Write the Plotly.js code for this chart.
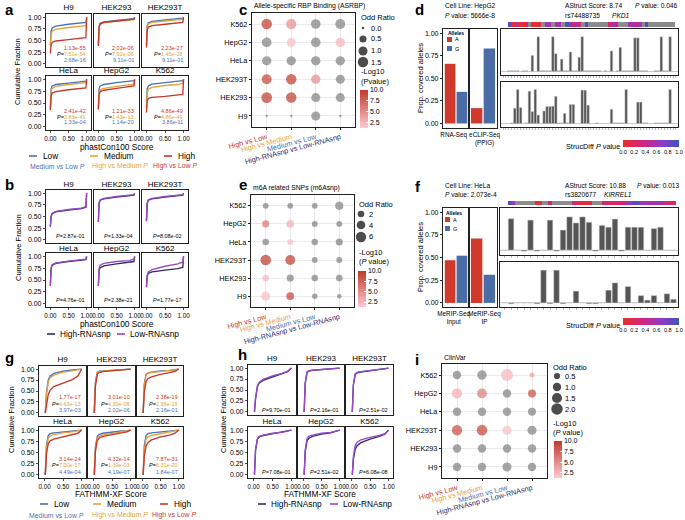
<!DOCTYPE html>
<html><head><meta charset="utf-8">
<script src="https://cdn.plot.ly/plotly-3.0.1.min.js"></script>
<style>html,body{margin:0;padding:0;background:#fff}</style>
</head><body><div id="chart" style="width:685px;height:520px"></div>
<script>
// ---------------- DATA ----------------
const cellLines=['H9','HEK293','HEK293T','HeLa','HepG2','K562'];
const phastX=[0,0.02,0.05,0.15,0.5,0.85,0.98,1.0];
const fathX=[0.02,0.05,0.1,0.15,0.25,0.5,0.75,0.9,1.0];
// panel a (phastCon100, Low / Medium / High)
const aLow=[[0.40,0.70,0.77,0.81,0.85,0.87,0.89,1.0],[0.40,0.80,0.87,0.90,0.93,0.95,0.97,1.0],[0.40,0.82,0.88,0.91,0.94,0.96,0.98,1.0],[0.40,0.80,0.86,0.89,0.92,0.94,0.96,1.0],[0.40,0.80,0.86,0.89,0.93,0.95,0.97,1.0],[0.40,0.80,0.86,0.90,0.93,0.95,0.97,1.0]];
const aMed=[[0.38,0.62,0.70,0.74,0.78,0.80,0.82,1.0],[0.40,0.78,0.85,0.88,0.91,0.93,0.95,1.0],[0.40,0.80,0.86,0.89,0.92,0.94,0.96,1.0],[0.38,0.75,0.81,0.85,0.89,0.91,0.93,1.0],[0.38,0.72,0.78,0.81,0.85,0.88,0.90,1.0],[0.38,0.72,0.79,0.83,0.87,0.89,0.92,1.0]];
const aHigh=[[0.22,0.40,0.46,0.49,0.52,0.54,0.56,1.0],[0.38,0.78,0.86,0.89,0.92,0.94,0.96,1.0],[0.35,0.72,0.79,0.82,0.85,0.87,0.89,1.0],[0.35,0.65,0.71,0.74,0.78,0.80,0.82,1.0],[0.36,0.68,0.74,0.77,0.81,0.84,0.86,1.0],[0.30,0.55,0.60,0.62,0.64,0.66,0.68,1.0]];
const aHL=['1.13e-55','2.02e-06','2.23e-27','2.41e-42','1.21e-33','4.86e-49'];
const aHM=['7.51e-54','7.92e-08','1.45e-28','3.83e-41','1.43e-13','4.86e-49'];
const aML=['2.68e-16','9.11e-01','9.11e-01','1.33e-04','1.14e-20','3.86e-11'];
// panel b (phastCon100, High-RNAsnp / Low-RNAsnp)
const bHigh=[[0.28,0.50,0.56,0.60,0.64,0.67,0.70,1.0],[0.38,0.78,0.85,0.88,0.92,0.94,0.96,1.0],[0.40,0.78,0.85,0.88,0.92,0.94,0.96,1.0],[0.38,0.74,0.81,0.85,0.89,0.91,0.93,1.0],[0.38,0.70,0.76,0.80,0.84,0.87,0.89,1.0],[0.35,0.58,0.64,0.67,0.71,0.74,0.77,1.0]];
const bLow=[[0.28,0.50,0.57,0.61,0.65,0.68,0.71,1.0],[0.38,0.79,0.86,0.89,0.93,0.95,0.97,1.0],[0.40,0.79,0.86,0.89,0.93,0.95,0.97,1.0],[0.38,0.75,0.82,0.86,0.90,0.92,0.94,1.0],[0.38,0.74,0.81,0.85,0.89,0.91,0.94,1.0],[0.35,0.60,0.67,0.72,0.79,0.84,0.88,1.0]];
const bP=['2.87e-01','1.33e-04','8.08e-02','4.76e-01','2.38e-21','1.77e-17'];
// panel g (FATHMM-XF, Low / Medium / High)
const gLow=[[0,0.45,0.75,0.84,0.90,0.95,0.98,0.99,1.0],[0,0.70,0.93,0.95,0.96,0.97,0.98,0.99,1.0],[0,0.65,0.88,0.91,0.93,0.96,0.97,0.99,1.0],[0,0.65,0.88,0.92,0.94,0.96,0.98,0.99,1.0],[0,0.62,0.86,0.90,0.93,0.96,0.98,0.99,1.0],[0,0.65,0.88,0.92,0.94,0.96,0.97,0.98,1.0]];
const gMed=[[0,0.40,0.70,0.80,0.86,0.93,0.96,0.98,1.0],[0,0.68,0.92,0.94,0.95,0.97,0.98,0.99,1.0],[0,0.62,0.86,0.90,0.92,0.95,0.97,0.98,1.0],[0,0.60,0.82,0.87,0.90,0.94,0.96,0.98,1.0],[0,0.58,0.82,0.86,0.89,0.93,0.96,0.98,1.0],[0,0.55,0.80,0.85,0.88,0.92,0.95,0.97,1.0]];
const gHigh=[[0,0.20,0.42,0.52,0.60,0.68,0.76,0.84,1.0],[0,0.60,0.88,0.92,0.94,0.96,0.97,0.99,1.0],[0,0.45,0.72,0.78,0.82,0.88,0.92,0.95,1.0],[0,0.45,0.70,0.76,0.80,0.85,0.89,0.93,1.0],[0,0.52,0.76,0.82,0.86,0.90,0.93,0.96,1.0],[0,0.40,0.65,0.72,0.78,0.85,0.89,0.93,1.0]];
const gHL=['1.77e-17','3.01e-10','2.38e-19','3.14e-24','4.32e-14','7.87e-31'];
const gHM=['4.63e-13','4.30e-08','2.38e-19','7.00e-17','1.39e-03','6.31e-20'];
const gML=['3.97e-03','2.02e-06','2.16e-01','4.49e-04','4.19e-07','1.84e-07'];
// panel h (FATHMM-XF, High-RNAsnp / Low-RNAsnp)
const hHigh=[[0,0.30,0.58,0.66,0.72,0.80,0.87,0.92,1.0],[0,0.65,0.90,0.93,0.95,0.97,0.98,0.99,1.0],[0,0.62,0.86,0.89,0.91,0.94,0.96,0.98,1.0],[0,0.55,0.80,0.85,0.88,0.92,0.95,0.97,1.0],[0,0.52,0.76,0.82,0.86,0.91,0.94,0.97,1.0],[0,0.35,0.58,0.65,0.72,0.80,0.86,0.91,1.0]];
const hLow=[[0,0.32,0.60,0.68,0.74,0.82,0.88,0.93,1.0],[0,0.67,0.91,0.94,0.95,0.97,0.98,0.99,1.0],[0,0.63,0.87,0.90,0.92,0.95,0.97,0.98,1.0],[0,0.57,0.81,0.86,0.89,0.93,0.95,0.97,1.0],[0,0.56,0.81,0.86,0.89,0.93,0.95,0.97,1.0],[0,0.42,0.66,0.73,0.78,0.84,0.88,0.92,1.0]];
const hP=['9.70e-01','2.16e-01','2.51e-02','7.08e-01','2.51e-02','6.08e-08'];
// dot plots: rows in cellLines order (H9 bottom), columns in comparisons order
const comparisons=['High vs Low','High vs Medium','Medium vs Low','High-RNAsnp vs Low-RNAsnp'];
const cOR=[[0.0,0.0,1.0,0.0],[1.6,1.5,1.0,1.0],[1.3,1.5,1.1,1.0],[1.1,1.1,1.1,1.1],[1.2,1.0,1.2,1.1],[1.5,1.4,1.2,1.3]];
const cLP=[[null,null,null,null],[10,10,null,null],[9.5,10,5,null],[null,null,null,null],[null,2,null,2.5],[10,5,null,null]];
const eOR=[[4.5,3,1.2,0.7],[2,2.5,2,2],[6.5,5.5,1.5,1.5],[2,1.5,2,2.5],[2.5,3,1.5,1.5],[1.5,1.5,1.5,3.5]];
const eLP=[[2,9.5,null,null],[2.5,null,null,null],[10,10,null,null],[null,2,null,null],[6.5,3,null,null],[null,null,null,null]];
const iOR=[[1.0,1.0,1.2,1.0],[1.0,1.0,1.0,1.0],[1.6,1.7,1.2,1.2],[1.0,1.0,1.0,0.9],[1.6,1.4,1.0,0.9],[1.0,1.3,2.2,0.3]];
const iLP=[[null,null,null,null],[null,null,null,null],[9,9.5,2,null],[null,null,null,null],[3,6,null,9],[null,null,2.5,4]];
const cSizeLegend=[0,0.5,1.0,1.5];
const eSizeLegend=[2,4,6];
const iSizeLegend=[0.5,1.0,1.5,2.0];
const lpTicks=[2.5,5,7.5,10];
// panels d / f
const dGroups=['RNA-Seq','eCLIP-Seq<br>(PPIG)'];
const dA=[0.66,0.17], dG=[0.35,0.83];
const fGroups=['MeRIP-Seq<br>Input','MeRIP-Seq<br>IP'];
const fA=[0.47,0.71], fG=[0.52,0.31];
const dTop=[0,0,0.02,0.02,0.02,0.02,0,0.02,0.02,0,0.45,0,0.98,0.02,0.02,0.02,0.02,0.98,0.5,0.02,0.35,0.02,0.02,0.55,0.02,0.02,0.4,0.98,0.02,0.02,0.02,0.02,0.02,0.02,0,0.02,0,0.58,0,0.02,0.68,0.02,0.02,0.02,0.02,0.95,0.95,0.02,0.02,0.02,0,0,0.02,0.02,0.98,0.02,0.02,0.98,0,0];
const dBottom=[0,0,0,0.02,0.45,1.0,0.47,0,0.02,0.95,0.35,1.0,0.25,0,0.37,0.5,0.5,0.51,0.8,0.02,0.02,0.3,0.02,0.56,0.56,0,0,0.98,0.98,0.54,0,0,0.02,0,0,0,0,0.42,0.02,0.02,0.02,0.02,1.0,0,0,0,0.63,0.63,0.02,0.02,0,0,0.02,0.02,0.02,0.02,0.02,1.0,0,0];
const fTop=[0,0.88,0,-0.03,0.84,-0.03,0,0.84,-0.03,0.56,0.93,0.76,0.93,0.78,-0.03,0.69,0.64,0.87,-0.03,0.64,0.64,0.64,0,0.6,0.64,0,0];
const fBottom=[0,-0.01,0,0,0,-0.01,0.36,-0.01,0.36,-0.01,0,0.13,0,-0.01,-0.01,0,0.14,0.22,0,0.18,0,0.08,0.03,0.08,0,0.1,0.04];
const dStrip=[0.9,0.05,0.65,0.1,0.05,0.35,null,0.02,0.02,0.05,null,0.6,0.6,null,0.55,0.6,null,0.9,0.85,0.3,0.6,0.3,null,0.9,null,null,null,null,null,null,0.3,0.6,0.3,null,null,null,0.6,0.55,0.3,0.6,null,0.9,null,null,null,null,null,null,null,null];
const fStrip=[0.9,0.65,null,null,null,null,null,null,0.05,0.05,null,null,0.3,null,null,null,null,null,null,0.3,0.2,0.1,0.05,0.1,0.15,null,null,null,0.3,0.25,0.3,0.2,0.25,0.3,0.35,0.6,0.65,0.85,0.9,0.65,0.6,0.65,0.6,0.55,0.6,0.55,0.6,0.3,0.25,0.2];
const strucTicks=[0,0.2,0.4,0.6,0.8,1.0];

// ---------------- STYLE / HELPERS ----------------
const W=685,H=520;
const FONT='Liberation Sans, Arial, Helvetica, sans-serif';
const C_LOW='#4A72B0',C_MED='#E5A33B',C_HIGH='#C8372D',C_HR='#2E2C6E',C_LR='#9B48C6';
const C_A='#CF3A2C',C_G='#4A6DA8',GREY='#7f7f7f';
const PINKRED=[[0,'#FFC9D3'],[1,'#C0392B']];
const STRUC=[[0,'#E8302A'],[0.35,'#D3237F'],[0.7,'#8E3BC8'],[1,'#3B56B6']];
const F=(s,c)=>({family:FONT,size:s,color:c||'#000000'});
const traces=[],annotations=[],shapes=[];
const layout={width:W,height:H,margin:{l:0,r:0,t:0,b:0},paper_bgcolor:'#fff',plot_bgcolor:'rgba(0,0,0,0)',showlegend:false,hovermode:false,font:F(8),annotations,shapes,bargap:0.1};
let nAx=0;
function addAxes(x0,x1,y0,y1,xo,yo){
  nAx++;const s=nAx===1?'':String(nAx);
  layout['xaxis'+s]=Object.assign({domain:[x0/W,x1/W],anchor:'y'+s,showgrid:false,zeroline:false,fixedrange:true},xo||{});
  layout['yaxis'+s]=Object.assign({domain:[1-y1/H,1-y0/H],anchor:'x'+s,showgrid:false,zeroline:false,fixedrange:true},yo||{});
  return {x:'x'+s,y:'y'+s};
}
function txt(x,y,text,opt){annotations.push(Object.assign({xref:'paper',yref:'paper',x:x/W,y:1-y/H,text:text,showarrow:false,xanchor:'left',yanchor:'middle',font:F(8)},opt||{}));}
function dtxt(ax,x,y,text,size){annotations.push({xref:ax.x+' domain',yref:ax.y+' domain',x:x,y:y,text:text,showarrow:false,xanchor:'right',yanchor:'middle',font:F(size||5.5)});}
function hline(x0,x1,y,color){shapes.push({type:'line',xref:'paper',yref:'paper',x0:x0/W,x1:x1/W,y0:1-y/H,y1:1-y/H,line:{color:color,width:1.6}});}
const boxAx={showline:true,mirror:true,linecolor:'#222',linewidth:1.1};
// facet strip titles collected here, drawn as a text trace on a pixel overlay
const facet={x:[],y:[],t:[]};

// ---------------- CDF GROUPS ----------------
function cdfGroup(cfg){
  for(let i=0;i<6;i++){
    const r=Math.floor(i/3),c=i%3;
    const [x0,x1]=cfg.cols[c],[y0,y1]=cfg.rows[r];
    const bottom=r===1,left=c===0;
    const ax=addAxes(x0,x1,y0,y1,
      Object.assign({range:cfg.xrange,tickvals:[0,0.5,1],ticktext:['0.00','0.50','1.00'],showticklabels:bottom,ticks:bottom?'outside':'',ticklen:2,tickwidth:0.8,tickcolor:'#222',tickfont:F(6.3)},boxAx),
      Object.assign({range:[-0.07,1.07],tickvals:[0,0.25,0.5,0.75,1],ticktext:['0.00','0.25','0.50','0.75','1.00'],showticklabels:left,ticks:left?'outside':'',ticklen:2,tickwidth:0.8,tickcolor:'#222',tickfont:F(7)},boxAx));
    cfg.series.forEach(s=>traces.push({type:'scatter',mode:'lines',x:cfg.xgrid,y:s.data[i],xaxis:ax.x,yaxis:ax.y,line:{color:s.color,width:1.35},hoverinfo:'skip'}));
    facet.x.push((x0+x1)/2); facet.y.push(y0-cfg.tOff[r]); facet.t.push(cellLines[i]);
    cfg.ptext(i,ax);
  }
}
function p3(HL,HM,ML,xd,ys){return (i,ax)=>{
  dtxt(ax,xd,ys[0],`<span style="color:${C_HIGH}">${HL[i]}</span>`);
  dtxt(ax,xd,ys[1],`<i>P</i>=<span style="color:${C_MED}">${HM[i]}</span>`);
  dtxt(ax,xd,ys[2],`<span style="color:${C_LOW}">${ML[i]}</span>`);
};}
function p1(P,xd,y){return (i,ax)=>dtxt(ax,xd,y,`<i>P</i>=${P[i]}`);}

cdfGroup({cols:[[46,91],[94,139],[142,188]],rows:[[14,67],[76,130]],xrange:[-0.12,1.12],xgrid:phastX,tOff:[6,5.5],
  series:[{data:aLow,color:C_LOW},{data:aMed,color:C_MED},{data:aHigh,color:C_HIGH}],ptext:p3(aHL,aHM,aML,0.93,[0.36,0.25,0.14])});
cdfGroup({cols:[[46,91],[94,139],[142,188]],rows:[[190,243],[253,307]],xrange:[-0.12,1.12],xgrid:phastX,tOff:[5,4.5],
  series:[{data:bHigh,color:C_HR},{data:bLow,color:C_LR}],ptext:p1(bP,0.92,0.13)});
cdfGroup({cols:[[39,86],[88,135],[137,183]],rows:[[366,416],[427,478]],xrange:[-0.15,1.12],xgrid:fathX,tOff:[6,5.5],
  series:[{data:gLow,color:C_LOW},{data:gMed,color:C_MED},{data:gHigh,color:C_HIGH}],ptext:p3(gHL,gHM,gML,0.93,[0.38,0.25,0.12])});
cdfGroup({cols:[[248,296],[298,344],[346,393]],rows:[[365,415],[427,478]],xrange:[-0.15,1.12],xgrid:fathX,tOff:[6,5.5],
  series:[{data:hHigh,color:C_HR},{data:hLow,color:C_LR}],ptext:p1(hP,0.93,0.11)});

// axis titles & legends of CDF groups
const rot={textangle:-90,xanchor:'center',yanchor:'middle',font:F(7.5)};
txt(18,72,'Cumulative Fraction',rot);
txt(18,248,'Cumulative Fraction',rot);
txt(11,420,'Cumulative Fraction',rot);
txt(223,420,'Cumulative Fraction',rot);
txt(117,147,'phastCon100 Score',{xanchor:'center',font:F(8.3)});
txt(117,324,'phastCon100 Score',{xanchor:'center',font:F(8.3)});
txt(111,494,'FATHMM-XF Score',{xanchor:'center',font:F(8.3)});
txt(320,494,'FATHMM-XF Score',{xanchor:'center',font:F(8.3)});
function lvlLegend(y,xs){
  [[C_LOW,'Low'],[C_MED,'Medium'],[C_HIGH,'High']].forEach((d,k)=>{hline(xs[k],xs[k]+8,y,d[0]);txt(xs[k]+12,y,d[1],{font:F(8.3)});});
}
lvlLegend(156,[29,90,164]); lvlLegend(504,[40,93,160]);
function pLegend(y,xs){
  [[C_LOW,'Medium vs Low'],[C_MED,'High vs Medium'],[C_HIGH,'High vs Low']].forEach((d,k)=>txt(xs[k],y,`${d[1]} <i>P</i>`,{font:F(6.9,d[0])}));
}
pLegend(166,[28,90,151]); pLegend(515,[27,90,150]);
function snpLegend(y,xs){
  [[C_HR,'High-RNAsnp'],[C_LR,'Low-RNAsnp']].forEach((d,k)=>{hline(xs[k],xs[k]+8,y,d[0]);txt(xs[k]+11,y,d[1],{font:F(8.3)});});
}
snpLegend(334,[47,117]); snpLegend(504,[258,330]);

// ---------------- DOT PLOTS ----------------
const compColors=[C_HIGH,C_MED,C_LOW,C_HR];
const compTicks=comparisons.map((l,i)=>`<span style="color:${compColors[i]}">${l}</span>`);
const legendDots={x:[],y:[],s:[]};
function dotPanel(box,OR,LP,sz,lg){
  const ax=addAxes(box[0],box[1],box[2],box[3],
    Object.assign({range:[-0.6,3.6],tickvals:[0,1,2,3],ticktext:compTicks,tickangle:-15,showgrid:true,gridcolor:'#e6e6e6',gridwidth:0.8,ticks:'outside',ticklen:2,tickcolor:'#222',tickfont:F(7.3)},boxAx),
    Object.assign({range:[-0.6,5.6],tickvals:cellLines.map((c,i)=>i),ticktext:cellLines,showgrid:true,gridcolor:'#e6e6e6',gridwidth:0.8,ticks:'outside',ticklen:2,tickcolor:'#222',tickfont:F(7.3)},boxAx));
  const g={x:[],y:[],s:[]},c={x:[],y:[],s:[],c:[]};
  OR.forEach((row,r)=>row.forEach((v,k)=>{
    if(LP[r][k]==null){g.x.push(k);g.y.push(r);g.s.push(sz(v));}
    else{c.x.push(k);c.y.push(r);c.s.push(sz(v));c.c.push(LP[r][k]);}
  }));
  traces.push({type:'scatter',mode:'markers',x:g.x,y:g.y,xaxis:ax.x,yaxis:ax.y,marker:{size:g.s,color:GREY,line:{width:0}}});
  traces.push({type:'scatter',mode:'markers',x:c.x,y:c.y,xaxis:ax.x,yaxis:ax.y,
    marker:{size:c.s,color:c.c,colorscale:PINKRED,cmin:1.3,cmax:10,line:{width:0},showscale:true,
      colorbar:{x:lg.cb[0]/W,xanchor:'left',y:1-lg.cb[1]/H,yanchor:'top',len:lg.cb[2],lenmode:'pixels',thickness:8,thicknessmode:'pixels',xpad:0,ypad:0,outlinewidth:0,
        tickvals:lpTicks,ticktext:lpTicks.map(v=>v.toFixed(1)),ticks:'inside',ticklen:2,tickcolor:'#fff',tickfont:F(7)}}});
  txt(box[0],box[2]-7,lg.title,{font:F(6.8)});
  txt(lg.ox,lg.oy,'Odd Ratio',{font:F(7.5)});
  lg.vals.forEach((v,k)=>{legendDots.x.push(lg.dx);legendDots.y.push(lg.dy[k]);legendDots.s.push(sz(v));
    txt(lg.dx+6,lg.dy[k],lg.labels[k],{font:F(7.5)});});
  txt(lg.ox,lg.ly,'-Log10',{font:F(7.5)});
  txt(lg.ox,lg.ly+9,lg.ptitle,{font:F(7.5)});
}
dotPanel([252,355,13,127],cOR,cLP,v=>2.5+8.5*Math.sqrt(v/1.7),
  {title:'Allele-specific RBP Binding (ASRBP)',cb:[360,90,38],ox:359,oy:18,dx:363,dy:[28,39,51,62],vals:cSizeLegend,labels:cSizeLegend.map(v=>v.toFixed(1)),ly:72,ptitle:'(Pvalue)'});
dotPanel([251,354,195,307],eOR,eLP,v=>1.5+9.5*Math.sqrt(v/7),
  {title:'m6A related SNPs (m6Asnp)',cb:[358,271,36],ox:357,oy:205,dx:361,dy:[214,225,237],vals:eSizeLegend,labels:eSizeLegend.map(String),ly:252,ptitle:'(<i>P</i> value)'});
dotPanel([442,547,364,478],iOR,iLP,v=>1+11*Math.sqrt(v/2.2),
  {title:'ClinVar',cb:[554,441,37],ox:551,oy:367,dx:557,dy:[376,387,398,409],vals:iSizeLegend,labels:iSizeLegend.map(v=>v.toFixed(1)),ly:423,ptitle:'(<i>P</i> value)'});

// ---------------- PANELS d / f ----------------
function allelePanel(cols,rows,yr,groups,A,G){
  cols.forEach((cx,gi)=>{
    const left=gi===0;
    const ax=addAxes(cx[0],cx[1],rows[0],rows[1],
      Object.assign({range:[-0.6,1.6],tickvals:[left?0.3:0.62],ticktext:[groups[gi]],ticks:'',tickfont:F(6.3)},boxAx),
      Object.assign({range:yr,tickvals:[0,0.25,0.5,0.75,1],ticktext:['0.00','0.25','0.50','0.75','1.00'],showticklabels:left,ticks:left?'outside':'',ticklen:2,tickcolor:'#222',tickfont:F(7)},boxAx));
    traces.push({type:'bar',x:[0,1],y:[A[gi],G[gi]],width:[0.9,0.9],xaxis:ax.x,yaxis:ax.y,marker:{color:[C_A,C_G],line:{width:0}}});
  });
}
function strucPanel(x0,x1,y0,y1,vals,yr){
  const ax=addAxes(x0,x1,y0,y1,
    Object.assign({range:[0.3,vals.length+0.7],tick0:1,dtick:1,ticks:'outside',ticklen:1.5,tickwidth:0.5,tickcolor:'#777',showticklabels:false},boxAx),
    Object.assign({range:yr,showticklabels:false,zeroline:true,zerolinecolor:'#d0d0d0',zerolinewidth:1},boxAx));
  traces.push({type:'bar',x:vals.map((v,i)=>i+1),y:vals,width:0.85,xaxis:ax.x,yaxis:ax.y,marker:{color:'#555555',line:{color:'#c8c8c8',width:0.5}}});
}
function strip(x0,x1,y0,y1,vals,cb){
  const ax=addAxes(x0,x1,y0,y1,{range:[-0.5,vals.length-0.5],visible:false},{range:[-0.5,0.5],visible:false});
  shapes.push({type:'rect',xref:ax.x+' domain',yref:ax.y+' domain',x0:0,x1:1,y0:0,y1:1,fillcolor:'#8c8c8c',line:{width:0},layer:'below'});
  traces.push({type:'heatmap',z:[vals],x:vals.map((v,i)=>i),y:[0],xaxis:ax.x,yaxis:ax.y,zmin:0,zmax:1.0001,colorscale:STRUC,showscale:true,hoverongaps:false,
    colorbar:{orientation:'h',x:cb[0]/W,xanchor:'center',y:1-cb[1]/H,yanchor:'top',len:56,lenmode:'pixels',thickness:7,thicknessmode:'pixels',xpad:0,ypad:0,outlinewidth:0,
      tickvals:strucTicks,ticktext:strucTicks.map(v=>v.toFixed(1)),ticks:'',tickfont:F(5.5)}});
}
function allelesKey(x,y){
  txt(x,y,'<b>Alleles</b>',{font:F(5)});
  shapes.push({type:'rect',xref:'paper',yref:'paper',x0:(x+1)/W,x1:(x+6)/W,y0:1-(y+9)/H,y1:1-(y+4)/H,fillcolor:C_A,line:{width:0}});
  shapes.push({type:'rect',xref:'paper',yref:'paper',x0:(x+1)/W,x1:(x+6)/W,y0:1-(y+18)/H,y1:1-(y+13)/H,fillcolor:C_G,line:{width:0}});
  txt(x+7,y+6.5,'A',{font:F(5.5)}); txt(x+7,y+15.5,'G',{font:F(5.5)});
}
const HF=6.6;
// d
allelePanel([[443,469],[469,497]],[29,128],[-0.05,1.045],dGroups,dA,dG);
strucPanel(501,678,29,75,dTop,[-0.1,1.2]);
strucPanel(501,678,82,127,dBottom,[-0.1,1.22]);
strip(508,675,22,27,dStrip,[651,140]);
allelesKey(446,33);
txt(420,78,'Prop. covered alleles',rot);
txt(443,6,'Cell Line: HepG2',{font:F(HF)});
txt(443,15,'<i>P</i> value: 5666e-8',{font:F(HF)});
txt(563,6,'AStruct Score: 8.74',{font:F(HF)});
txt(679,6,'<i>P</i> value: 0.046',{font:F(HF),xanchor:'right'});
txt(563,15,'rs74488735',{font:F(HF)});
txt(610,15,'<i>PKD1</i>',{font:F(HF)});
txt(593,146,'StrucDiff <i>P</i> value',{xanchor:'center',font:F(7.3)});
// f
allelePanel([[443,469],[469,497]],[208,307],[-0.045,1.045],fGroups,fA,fG);
strucPanel(500,678,208,255,fTop,[-0.14,1.18]);
strucPanel(500,678,262,307,fBottom,[-0.045,0.45]);
strip(508,676,201,205,fStrip,[651,318]);
allelesKey(444,213);
txt(420,257,'Prop. covered alleles',rot);
txt(443,185,'Cell Line: HeLa',{font:F(HF)});
txt(443,194,'<i>P</i> value: 2.073e-4',{font:F(HF)});
txt(563,185,'AStruct Score: 10.88',{font:F(HF)});
txt(681,185,'<i>P</i> value: 0.013',{font:F(HF),xanchor:'right'});
txt(563,194,'rs3820677',{font:F(HF)});
txt(602,194,'<i>KIRREL1</i>',{font:F(HF)});
txt(593,325,'StrucDiff <i>P</i> value',{xanchor:'center',font:F(7.3)});

// panel letters
[['a',3,9],['b',3,184],['c',237,9],['d',413,9],['e',237,184],['f',413,186],['g',3,357],['h',236,354],['i',413,359]]
  .forEach(p=>txt(p[1],p[2],'<b>'+p[0]+'</b>',{font:F(15)}));

// overlay axis (pixel coordinates) for size-legend keys and facet titles
const ov=addAxes(0,W,0,H,{range:[0,W],visible:false},{range:[H,0],visible:false});
traces.push({type:'scatter',mode:'markers',x:legendDots.x,y:legendDots.y,xaxis:ov.x,yaxis:ov.y,marker:{size:legendDots.s,color:'#000',line:{width:0}}});
traces.push({type:'scatter',mode:'text',x:facet.x,y:facet.y,text:facet.t,textposition:'middle center',textfont:{family:FONT,size:8,color:'rgb(0,0,0)'},xaxis:ov.x,yaxis:ov.y,cliponaxis:false});

Plotly.newPlot('chart',traces,layout,{staticPlot:true,displayModeBar:false});
</script></body></html>
